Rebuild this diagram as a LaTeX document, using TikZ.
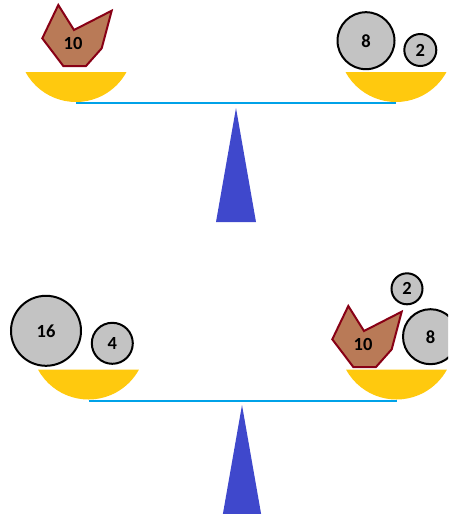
\documentclass[tikz,border=0pt]{standalone}
\usepackage{fontspec}
\setmainfont{Carlito}
\definecolor{panyellow}{RGB}{255,201,14}
\definecolor{beamblue}{RGB}{0,162,232}
\definecolor{fulcrumblue}{RGB}{63,72,204}
\definecolor{weightgray}{RGB}{195,195,195}
\definecolor{blockbrown}{RGB}{185,122,87}
\definecolor{blockred}{RGB}{136,0,21}
\newcommand*{\PanRadius}{57.5}
\newcommand*{\Weights}[1]{% #1 = list of name/x/y/size/label
  \foreach \n/\x/\y/\s/\t in {#1} {
    \node [weight, minimum size=\s pt] (\n) at (\x,\y) {\t};
    }%
}
\newcommand*{\Pan}[3]{% #1 = name, #2 = x centre, #3 = rim y
  \fill [panyellow] (#2-50.5,#3) arc (151.43:28.57:\PanRadius) -- cycle;
  \coordinate (#1) at (#2,#3+31);
}
\newcommand*{\Block}[3]{% #1 = name, #2/#3 = top corner
  \begin{scope}[shift={(#2,#3)}]
    \draw [block] (0,0) -- (15.7,25) -- (53.4,5.7) -- (43.4,43.3)
      -- (27.7,61) -- (5,61) -- (-16,33.3) -- cycle;
    \node [label10] (#1) at (14.7,38.3) {10};
  \end{scope}
}
\tikzset{
  weight/.style={circle, fill=weightgray, draw=black, line width=2pt,
    inner sep=0pt, font=\bfseries\fontsize{18.5}{20}\selectfont},
  block/.style={fill=blockbrown, draw=blockred, line width=2pt, line join=miter},
  label10/.style={inner sep=0pt, font=\bfseries\fontsize{18.5}{20}\selectfont},
  beam/.style={draw=beamblue, line width=2pt},
  fulcrum/.style={fill=fulcrumblue},
}

\begin{document}
\begin{tikzpicture}[x=1pt,y=-1pt]
    \clip (0,0) rectangle (448,514);

    % balance before
    \begin{scope}[local bounding box=before]
        \Pan{panA}{76}{72}
        \Pan{panB}{396}{72}
        \draw [beam] (panA) -- (panB);
        \fill [fulcrum] (236,108) -- (256,222) -- (216,222) -- cycle;
        \Block{blockA}{58.3}{5}
        \Weights{
            eightA/366/40.7/57/8,
            twoA/420.3/50/32/2
        }
    \end{scope}

    % balance after
    \begin{scope}[local bounding box=after]
        \Pan{panC}{88.5}{369.5}
        \Pan{panD}{396.5}{369.5}
        \draw [beam] (panC) -- (panD);
        \fill [fulcrum] (242,405) -- (262,519) -- (222,519) -- cycle;
        \Block{blockB}{348.3}{306}
        \Weights{
            sixteen/46/330.8/70/16,
            four/112.3/343.3/41/4,
            twoB/407/288.8/31/2,
            eightB/430.5/336.7/55/8
        }
    \end{scope}
\end{tikzpicture}
\end{document}
